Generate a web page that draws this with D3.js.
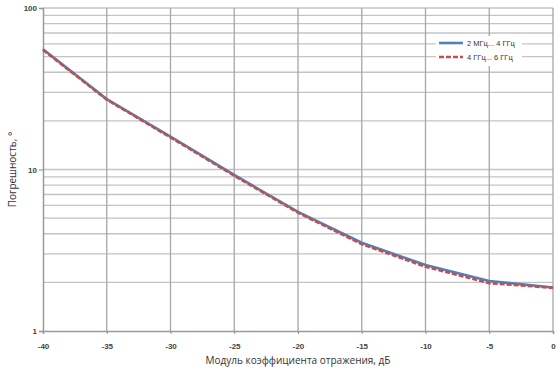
<!DOCTYPE html>
<html>
<head>
<meta charset="utf-8">
<script src="https://cdn.jsdelivr.net/npm/d3@7"></script>
<style>
  body { margin: 0; background: #fff; }
  svg { display: block; }
</style>
</head>
<body>
<div id="chart"></div>
<script>
// reflection coefficient, dB
var xValues = [-40, -35, -30, -25, -20, -15, -10, -5, 0];
// error, degrees
var band1 = [55.5, 27.3, 16.0, 9.25, 5.46, 3.52, 2.56, 2.04, 1.86];
var band2 = [55.0, 27.1, 15.8, 9.15, 5.40, 3.45, 2.50, 1.98, 1.85];
var seriesNames = ["2 МГц... 4 ГГц", "4 ГГц... 6 ГГц"];
var xTicks = [-40, -35, -30, -25, -20, -15, -10, -5, 0];
var yTicks = [1, 10, 100];

var width = 558, height = 370;
var margin = {top: 8, right: 5, bottom: 39, left: 43};

var svg = d3.select("#chart").append("svg")
    .attr("width", width)
    .attr("height", height);

var x = d3.scaleLinear().domain([-40, 0]).range([margin.left, width - margin.right]);
var y = d3.scaleLog().domain([1, 100]).range([height - margin.bottom, margin.top]);

// minor horizontal grid
var minor = [];
[1, 10].forEach(function(dec) {
    for (var k = 2; k <= 9; k++) minor.push(dec * k);
});
svg.append("g").selectAll("line")
    .data(minor.concat([10, 100]))
    .enter().append("line")
    .attr("x1", x(-40)).attr("x2", x(0))
    .attr("y1", function(d) { return y(d); })
    .attr("y2", function(d) { return y(d); })
    .style("stroke", "#c4c4c4")
    .style("stroke-width", 1.3);

// vertical grid
svg.append("g").selectAll("line")
    .data(xTicks.slice(1))
    .enter().append("line")
    .attr("x1", function(d) { return x(d); })
    .attr("x2", function(d) { return x(d); })
    .attr("y1", y(100)).attr("y2", y(1))
    .style("stroke", "#a6a6a6")
    .style("stroke-width", 1.3);

// axes
var plain = function(d) { return String(d); };
var xAxis = svg.append("g")
    .attr("transform", "translate(0," + y(1) + ")")
    .call(d3.axisBottom(x).tickValues(xTicks).tickSize(3).tickFormat(plain));
var yAxis = svg.append("g")
    .attr("transform", "translate(" + x(-40) + ",0)")
    .call(d3.axisLeft(y).tickValues(yTicks).tickSize(4).tickFormat(plain));

[xAxis, yAxis].forEach(function(g) {
    g.select(".domain").style("stroke", "#9a9a9a").style("stroke-width", 1.5);
    g.selectAll(".tick line").style("stroke", "#9a9a9a").style("stroke-width", 1.2);
    g.selectAll(".tick text")
        .style("font-family", "'Liberation Sans', Arial, sans-serif")
        .style("font-size", "8px")
        .style("font-weight", "bold")
        .style("fill", "#444");
});
xAxis.selectAll(".tick text").attr("dy", "1.5em");
yAxis.selectAll(".tick text").attr("x", -6);

// series
var line = d3.line()
    .x(function(d) { return x(d[0]); })
    .y(function(d) { return y(d[1]); });

svg.append("path")
    .datum(d3.zip(xValues, band1))
    .attr("d", line)
    .style("fill", "none")
    .style("stroke", "#4F81BD")
    .style("stroke-width", 2.6);

svg.append("path")
    .datum(d3.zip(xValues, band2))
    .attr("d", line)
    .style("fill", "none")
    .style("stroke", "#C0504D")
    .style("stroke-width", 2.6)
    .style("stroke-dasharray", "5,2");

// legend
var legend = svg.append("g").attr("transform", "translate(436,36)");
legend.append("rect")
    .attr("width", 86).attr("height", 30)
    .style("fill", "#fff");
var colors = ["#4F81BD", "#C0504D"];
seriesNames.forEach(function(name, i) {
    var ly = 7 + i * 14;
    legend.append("line")
        .attr("x1", 3).attr("x2", 27)
        .attr("y1", ly).attr("y2", ly)
        .style("stroke", colors[i])
        .style("stroke-width", 2.6)
        .style("stroke-dasharray", i ? "5,2" : null);
    legend.append("text")
        .attr("x", 31).attr("y", ly + 3)
        .style("font-family", "'Liberation Sans', Arial, sans-serif")
        .style("font-size", "7.5px")
        .style("fill", "#333")
        .text(name);
});

// axis titles
svg.append("text")
    .attr("x", (x(-40) + x(0)) / 2)
    .attr("y", 364)
    .attr("text-anchor", "middle")
    .style("font-family", "'Open Sans', sans-serif")
    .style("font-size", "10px")
    .style("fill", "#333")
    .text("Модуль коэффициента отражения, дБ");

svg.append("text")
    .attr("transform", "translate(16," + ((y(1) + y(100)) / 2) + ") rotate(-90)")
    .attr("text-anchor", "middle")
    .style("font-family", "'Open Sans', sans-serif")
    .style("font-size", "10px")
    .style("fill", "#333")
    .text("Погрешность, °");
</script>
</body>
</html>
